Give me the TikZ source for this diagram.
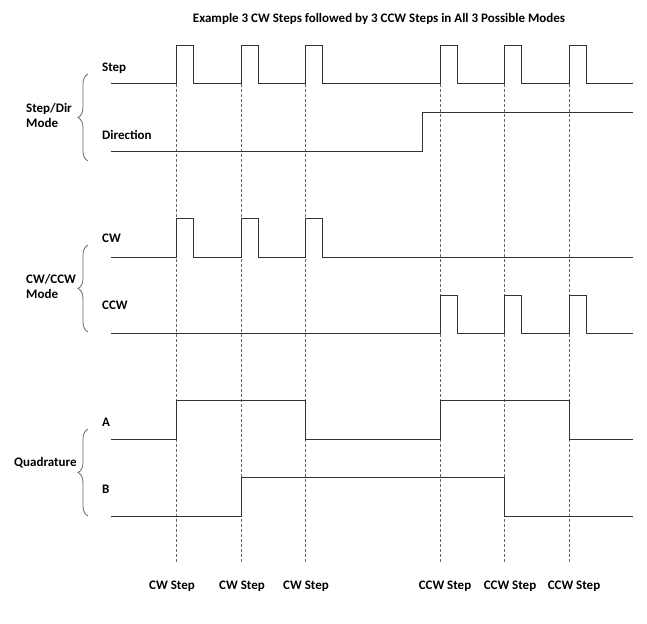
\documentclass[tikz,border=0pt]{standalone}
\usepackage{fontspec}
\setmainfont{Carlito}
\usepackage{tikz}
\usetikzlibrary{decorations.pathreplacing}

\begin{document}
\begin{tikzpicture}[
		x=1pt, y=-1pt,
		sig/.style={
			line width=1pt,
			color=black!80
			},
		guide/.style={
			line width=0.9pt,
			color=black!60,
			dash pattern=on 3pt off 2pt
			},
		lbl/.style={
			font=\fontsize{13}{15}\selectfont\bfseries,
			inner sep=0pt
			},
		brc/.style={
			line width=0.8pt,
			color=black!60,
			decorate,
			decoration={brace, amplitude=10pt}
			}
		]

		\useasboundingbox (0,0) rectangle (647,623);

		% title
		\node[lbl] (title) at (379,19) {Example 3 CW Steps followed by 3 CCW Steps in All 3 Possible Modes};

		% step lines
		\foreach \x in {176,241,305,440,504,569}
			\draw[guide] (\x,84) -- (\x,563);

		% Step/Dir
		\draw[sig] (111,84) -| (176,46) -| (193,84) -| (241,46) -| (258,84) -| (305,46) -| (322,84) -| (440,46) -| (457,84) -| (504,46) -| (521,84) -| (569,46) -| (586,84) -- (633,84);
		\draw[sig] (111,151) -| (422,113) -- (633,113);
		\node[lbl, anchor=west] (step) at (102,68) {Step};
		\node[lbl, anchor=west] (dir) at (102,135) {Direction};
		\draw[brc] (88,161) -- (88,74);
		\node[lbl, anchor=west, align=left] (stepdir) at (26,115.5) {Step/Dir\\Mode};

		% CW/CCW
		\draw[sig] (111,257) -| (176,218) -| (193,257) -| (241,218) -| (258,257) -| (305,218) -| (322,257) -- (633,257);
		\draw[sig] (111,333) -| (440,295) -| (457,333) -| (504,295) -| (521,333) -| (569,295) -| (586,333) -- (633,333);
		\node[lbl, anchor=west] (cw) at (102,238) {CW};
		\node[lbl, anchor=west] (ccw) at (102,305) {CCW};
		\draw[brc] (88,332) -- (88,245);
		\node[lbl, anchor=west, align=left] (cwccw) at (26,286) {CW/CCW\\Mode};

		% Quadrature
		\draw[sig] (111,439) -| (176,400) -| (305,439) -| (440,400) -| (569,439) -- (633,439);
		\draw[sig] (111,516) -| (241,477) -| (504,516) -- (633,516);
		\node[lbl, anchor=west] (qa) at (102,422) {A};
		\node[lbl, anchor=west] (qb) at (102,489) {B};
		\draw[brc] (88,516) -- (88,429);
		\node[lbl, anchor=west] (quad) at (14,463) {Quadrature};

		% step names
		\node[lbl] (cw1) at (172,586) {CW Step};
		\node[lbl] (cw2) at (242,586) {CW Step};
		\node[lbl] (cw3) at (306,586) {CW Step};
		\node[lbl] (ccw1) at (445,586) {CCW Step};
		\node[lbl] (ccw2) at (510,586) {CCW Step};
		\node[lbl] (ccw3) at (574,586) {CCW Step};

	\end{tikzpicture}
\end{document}
